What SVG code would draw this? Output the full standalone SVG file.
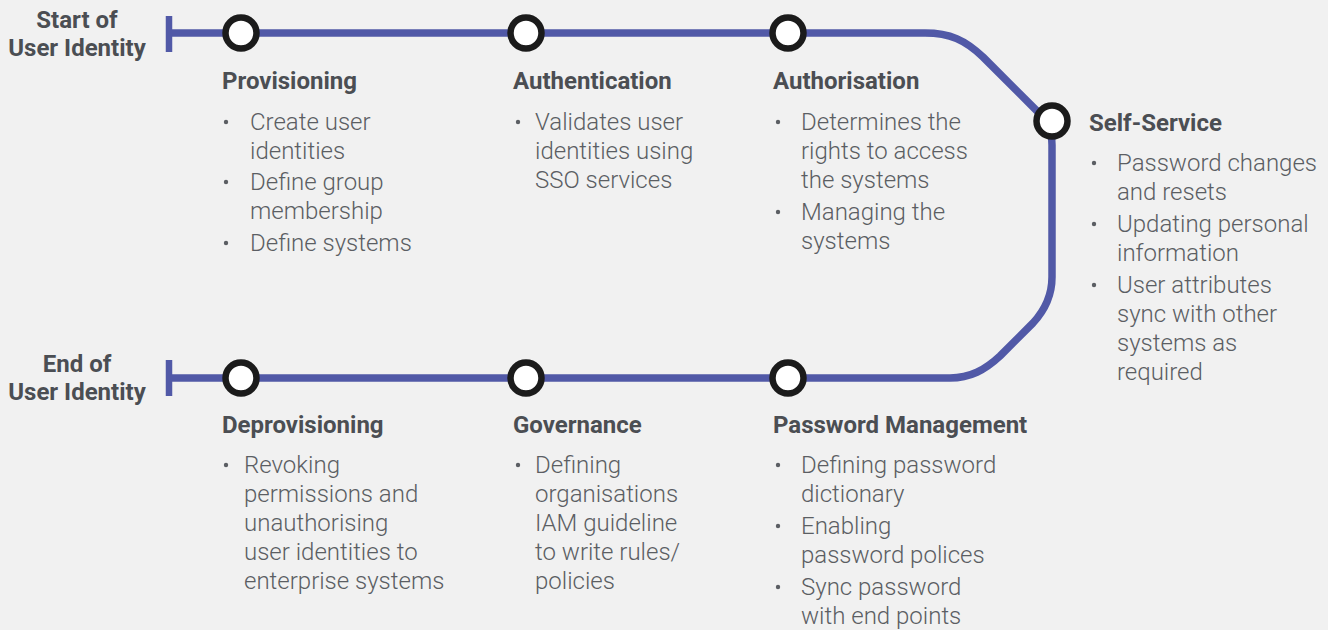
<svg xmlns="http://www.w3.org/2000/svg" width="1328" height="630" viewBox="0 0 1328 630">
  <style>
    .track { fill: none; stroke: #5159a7; stroke-width: 7.5; stroke-linejoin: round; }
    .tick { fill: none; stroke: #5159a7; stroke-width: 6.5; }
    .stop { fill: #ffffff; stroke: #1b1b1b; stroke-width: 6.5; }
    .term { font-family: Roboto, "Liberation Sans", sans-serif; font-weight: 700; font-size: 24px; fill: #4b4e53; text-anchor: middle; }
    .head { font-family: Roboto, "Liberation Sans", sans-serif; font-weight: 700; font-size: 24px; fill: #4b4e53; }
    .body { font-family: Roboto, "Liberation Sans", sans-serif; font-weight: 300; font-size: 24px; fill: #5b5e63; }
    .dot { fill: #5b5e63; }
  </style>

  <rect x="0" y="0" width="1328" height="630" fill="#f1f1f1"/>

  <!-- lifecycle track and its two end bars -->
  <g id="connectors">
    <path class="track" d="M 169 33 H 925 C 950 33 965 40 983 57 L 1038 112 C 1047 121 1052 130 1052 145 V 277 C 1052 295 1045 310 1033 323 L 1000 356 C 985 370 970 378 950 378 H 169"/>
    <line class="tick" x1="169" y1="16" x2="169" y2="52"/>
    <line class="tick" x1="169" y1="360" x2="169" y2="396"/>
  </g>

  <!-- terminal labels -->
  <g id="start">
    <text class="term" x="77" y="28">Start of</text>
    <text class="term" x="77" y="56">User Identity</text>
  </g>
  <g id="end">
    <text class="term" x="77" y="372">End of</text>
    <text class="term" x="77" y="400">User Identity</text>
  </g>

  <!-- stations -->
  <g id="provisioning">
    <circle class="stop" cx="241" cy="33" r="15.5"/>
    <text class="head" x="222" y="89">Provisioning</text>
    <circle class="dot" cx="226" cy="122" r="2.2"/>
    <text class="body" x="250" y="130">Create user</text>
    <text class="body" x="250" y="159">identities</text>
    <circle class="dot" cx="226" cy="182" r="2.2"/>
    <text class="body" x="250" y="190">Define group</text>
    <text class="body" x="250" y="219">membership</text>
    <circle class="dot" cx="226" cy="243" r="2.2"/>
    <text class="body" x="250" y="251">Define systems</text>
  </g>

  <g id="authentication">
    <circle class="stop" cx="526" cy="33" r="15.5"/>
    <text class="head" x="513" y="89">Authentication</text>
    <circle class="dot" cx="518" cy="122" r="2.2"/>
    <text class="body" x="535" y="130">Validates user</text>
    <text class="body" x="535" y="159">identities using</text>
    <text class="body" x="535" y="188">SSO services</text>
  </g>

  <g id="authorisation">
    <circle class="stop" cx="788" cy="33" r="15.5"/>
    <text class="head" x="773" y="89">Authorisation</text>
    <circle class="dot" cx="778" cy="122" r="2.2"/>
    <text class="body" x="801" y="130">Determines the</text>
    <text class="body" x="801" y="159">rights to access</text>
    <text class="body" x="801" y="188">the systems</text>
    <circle class="dot" cx="778" cy="212" r="2.2"/>
    <text class="body" x="801" y="220">Managing the</text>
    <text class="body" x="801" y="249">systems</text>
  </g>

  <g id="self-service">
    <circle class="stop" cx="1052" cy="121" r="15.5"/>
    <text class="head" x="1089" y="131">Self-Service</text>
    <circle class="dot" cx="1094" cy="163" r="2.2"/>
    <text class="body" x="1117" y="171">Password changes</text>
    <text class="body" x="1117" y="200">and resets</text>
    <circle class="dot" cx="1094" cy="224" r="2.2"/>
    <text class="body" x="1117" y="232">Updating personal</text>
    <text class="body" x="1117" y="261">information</text>
    <circle class="dot" cx="1094" cy="285" r="2.2"/>
    <text class="body" x="1117" y="293">User attributes</text>
    <text class="body" x="1117" y="322">sync with other</text>
    <text class="body" x="1117" y="351">systems as</text>
    <text class="body" x="1117" y="380">required</text>
  </g>

  <g id="deprovisioning">
    <circle class="stop" cx="241" cy="378" r="15.5"/>
    <text class="head" x="222" y="433">Deprovisioning</text>
    <circle class="dot" cx="226" cy="465" r="2.2"/>
    <text class="body" x="244" y="473">Revoking</text>
    <text class="body" x="244" y="502">permissions and</text>
    <text class="body" x="244" y="531">unauthorising</text>
    <text class="body" x="244" y="560">user identities to</text>
    <text class="body" x="244" y="589">enterprise systems</text>
  </g>

  <g id="governance">
    <circle class="stop" cx="526" cy="378" r="15.5"/>
    <text class="head" x="513" y="433">Governance</text>
    <circle class="dot" cx="518" cy="465" r="2.2"/>
    <text class="body" x="535" y="473">Defining</text>
    <text class="body" x="535" y="502">organisations</text>
    <text class="body" x="535" y="531">IAM guideline</text>
    <text class="body" x="535" y="560">to write rules/</text>
    <text class="body" x="535" y="589">policies</text>
  </g>

  <g id="password-management">
    <circle class="stop" cx="788" cy="378" r="15.5"/>
    <text class="head" x="773" y="433">Password Management</text>
    <circle class="dot" cx="778" cy="465" r="2.2"/>
    <text class="body" x="801" y="473">Defining password</text>
    <text class="body" x="801" y="502">dictionary</text>
    <circle class="dot" cx="778" cy="526" r="2.2"/>
    <text class="body" x="801" y="534">Enabling</text>
    <text class="body" x="801" y="563">password polices</text>
    <circle class="dot" cx="778" cy="587" r="2.2"/>
    <text class="body" x="801" y="595">Sync password</text>
    <text class="body" x="801" y="624">with end points</text>
  </g>
</svg>
